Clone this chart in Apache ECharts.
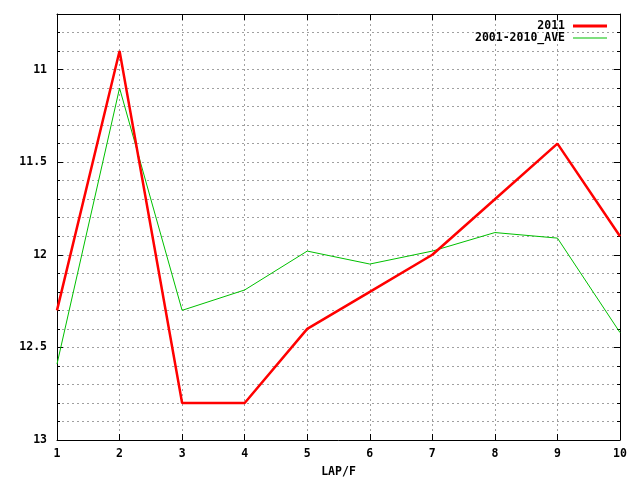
<!DOCTYPE html>
<html><head><meta charset="utf-8">
<script src="https://cdn.jsdelivr.net/npm/echarts@6/dist/echarts.min.js"></script>
<style>html,body{margin:0;padding:0;background:#fff}#c{width:640px;height:480px}</style>
</head><body><div id="c"></div>
<script>
const laps = [1, 2, 3, 4, 5, 6, 7, 8, 9, 10];
const y2011 = [12.3, 10.9, 12.8, 12.8, 12.4, 12.2, 12.0, 11.7, 11.4, 11.9];
const yAve = [12.59, 11.1, 12.3, 12.19, 11.98, 12.05, 11.98, 11.88, 11.91, 12.42];
const yMajorTicks = [11, 11.5, 12, 12.5, 13];
const xTicks = [1, 2, 3, 4, 5, 6, 7, 8, 9, 10];
const names = ['2011', '2001-2010_AVE'];

const FONT = 'DejaVu Sans Mono';
const txt = {fontFamily: FONT, fontWeight: 'bold', fontSize: 11.5, color: '#000'};
const dash = {color: '#a0a0a0', type: [2, 3], width: 1};
const axisLine = {show: true, lineStyle: {color: '#000', width: 1}};
const yBase = {type: 'value', inverse: true, min: 10.7, max: 13, interval: 0.1};

const chart = echarts.init(document.getElementById('c'), null, {renderer: 'canvas'});
chart.setOption({
  animation: false,
  backgroundColor: '#fff',
  grid: {left: 57, right: 20, top: 14, bottom: 40, containLabel: false, outerBoundsMode: 'none'},
  legend: [
    {data: [names[0]], right: 33, top: 20, orient: 'vertical', align: 'right', padding: 0,
     itemWidth: 34, itemHeight: 3, icon: 'rect', textStyle: Object.assign({}, txt, {padding: [0, 3, 0, 0]})},
    {data: [names[1]], right: 33, top: 32, orient: 'vertical', align: 'right', padding: 0,
     itemWidth: 34, itemHeight: 1, icon: 'rect', textStyle: Object.assign({}, txt, {padding: [0, 3, 0, 0]})}
  ],
  xAxis: [
    {type: 'value', min: 1, max: 10, interval: 1, position: 'bottom',
     name: 'LAP/F', nameLocation: 'middle', nameGap: 26, nameTextStyle: txt,
     axisLine: axisLine, axisTick: {show: true, inside: true, length: 6, lineStyle: {color: '#000'}},
     axisLabel: Object.assign({}, txt, {margin: 8, formatter: v => String(v)}),
     splitLine: {show: true, lineStyle: dash}},
    {type: 'value', min: 1, max: 10, interval: 1, position: 'top',
     axisLine: axisLine, axisTick: {show: true, inside: true, length: 6, lineStyle: {color: '#000'}},
     axisLabel: {show: false}, splitLine: {show: false}}
  ],
  yAxis: [
    Object.assign({}, yBase, {position: 'left',
      axisLine: axisLine, axisTick: {show: true, inside: true, length: 3, lineStyle: {color: '#000'}},
      axisLabel: Object.assign({}, txt, {margin: 10, customValues: yMajorTicks, formatter: v => String(Math.round(v * 10) / 10)}),
      splitLine: {show: true, lineStyle: dash}}),
    Object.assign({}, yBase, {position: 'left',
      axisLine: {show: false}, axisTick: {show: true, inside: true, length: 6, customValues: yMajorTicks, lineStyle: {color: '#000'}},
      axisLabel: {show: false}, splitLine: {show: false}}),
    Object.assign({}, yBase, {position: 'right',
      axisLine: axisLine, axisTick: {show: true, inside: true, length: 3, lineStyle: {color: '#000'}},
      axisLabel: {show: false}, splitLine: {show: false}}),
    Object.assign({}, yBase, {position: 'right',
      axisLine: {show: false}, axisTick: {show: true, inside: true, length: 6, customValues: yMajorTicks, lineStyle: {color: '#000'}},
      axisLabel: {show: false}, splitLine: {show: false}})
  ],
  series: [
    {name: names[0], type: 'line', xAxisIndex: 0, yAxisIndex: 0, showSymbol: false, symbol: 'none',
     color: '#ff0000', lineStyle: {color: '#ff0000', width: 2.5}, z: 3,
     data: laps.map((x, i) => [x, y2011[i]])},
    {name: names[1], type: 'line', xAxisIndex: 0, yAxisIndex: 0, showSymbol: false, symbol: 'none',
     color: '#00c000', lineStyle: {color: '#00c000', width: 1}, z: 2,
     data: laps.map((x, i) => [x, yAve[i]])}
  ]
});
</script></body></html>
